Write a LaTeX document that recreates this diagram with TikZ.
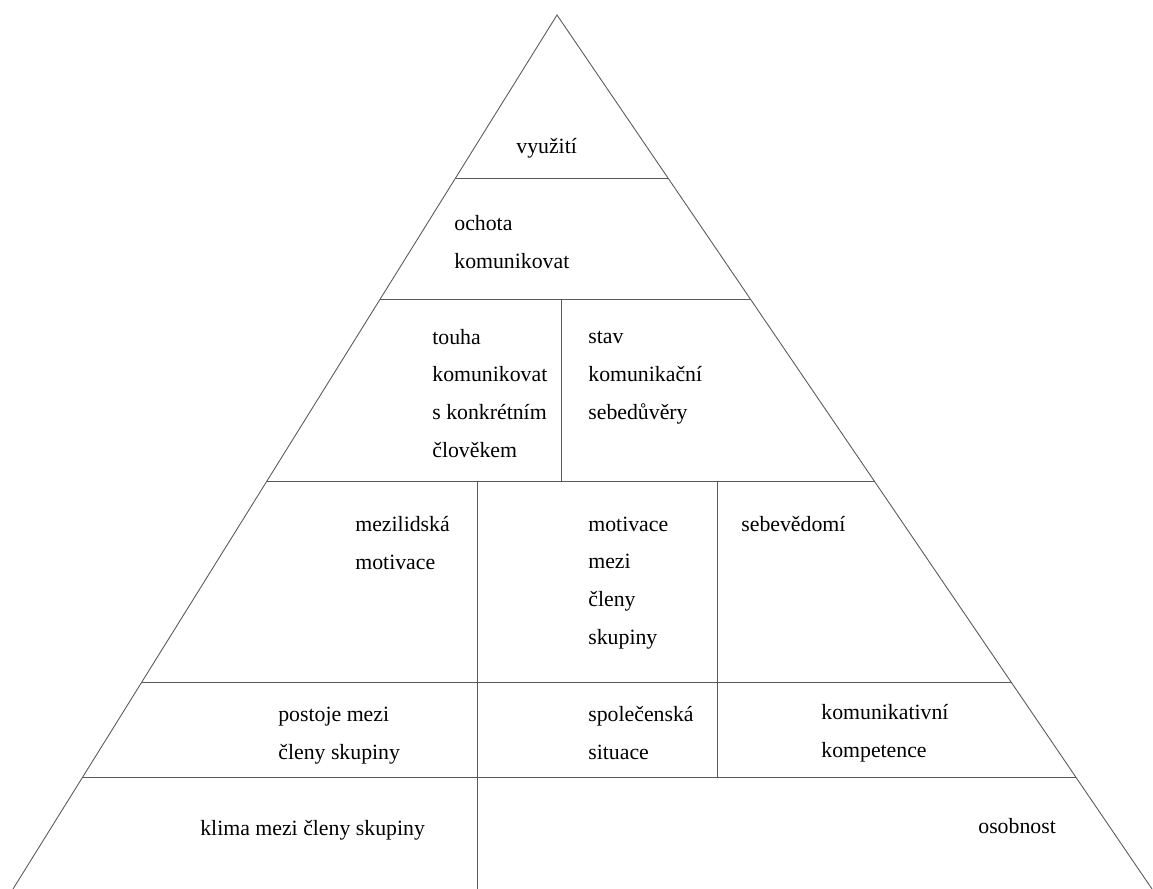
\documentclass[tikz,border=0pt]{standalone}
\usepackage{fontspec}
\setmainfont{Liberation Serif}
\usetikzlibrary{calc}

\begin{document}
\begin{tikzpicture}[
    x=0.2mm, y=-0.2mm,
    edge/.style={draw=black!65, line width=0.5pt},
    cell/.style={anchor=base west, inner sep=0pt, align=left,
                 font=\fontsize{12.4}{21.4}\selectfont}
]
\useasboundingbox (0,0) rectangle (1153,889);
\coordinate (apex) at (557,15);
\coordinate (bl) at (13,889);
\coordinate (br) at (1152,889);
\draw[edge] (bl) -- (apex) -- (br);
\foreach \y/\lvl in {178/a,299/b,481/c,682/d,777/e}{
  \coordinate (l\lvl) at ($(apex)!{(\y-15)/874}!(bl)$);
  \coordinate (r\lvl) at ($(apex)!{(\y-15)/874}!(br)$);
  \draw[edge] (l\lvl) -- (r\lvl);
}
\draw[edge] (561,0 |- lb) -- (561,0 |- lc);
\draw[edge] (477,0 |- lc) -- (477,0 |- bl);
\draw[edge] (717,0 |- lc) -- (717,0 |- le);

% base anchor sits on the last line of each cell
\node[cell] (vyuziti) at (516,154) {využití};
\node[cell] (ochota) at (454,268) {ochota\\komunikovat};
\node[cell] (touha) at (432,457) {touha\\komunikovat\\s konkrétním\\člověkem};
\node[cell] (stav) at (588,419) {stav\\komunikační\\sebedůvěry};
\node[cell] (mezilidska) at (355,569) {mezilidská\\motivace};
\node[cell] (motivace) at (588,644) {motivace\\mezi\\členy\\skupiny};
\node[cell] (sebevedomi) at (741,531) {sebevědomí};
\node[cell] (postoje) at (278,759) {postoje mezi\\členy skupiny};
\node[cell] (spolecenska) at (588,759) {společenská\\situace};
\node[cell] (kompetence) at (821,757) {komunikativní\\kompetence};
\node[cell] (klima) at (200,835) {klima mezi členy skupiny};
\node[cell] (osobnost) at (978,833) {osobnost};
\end{tikzpicture}
\end{document}
